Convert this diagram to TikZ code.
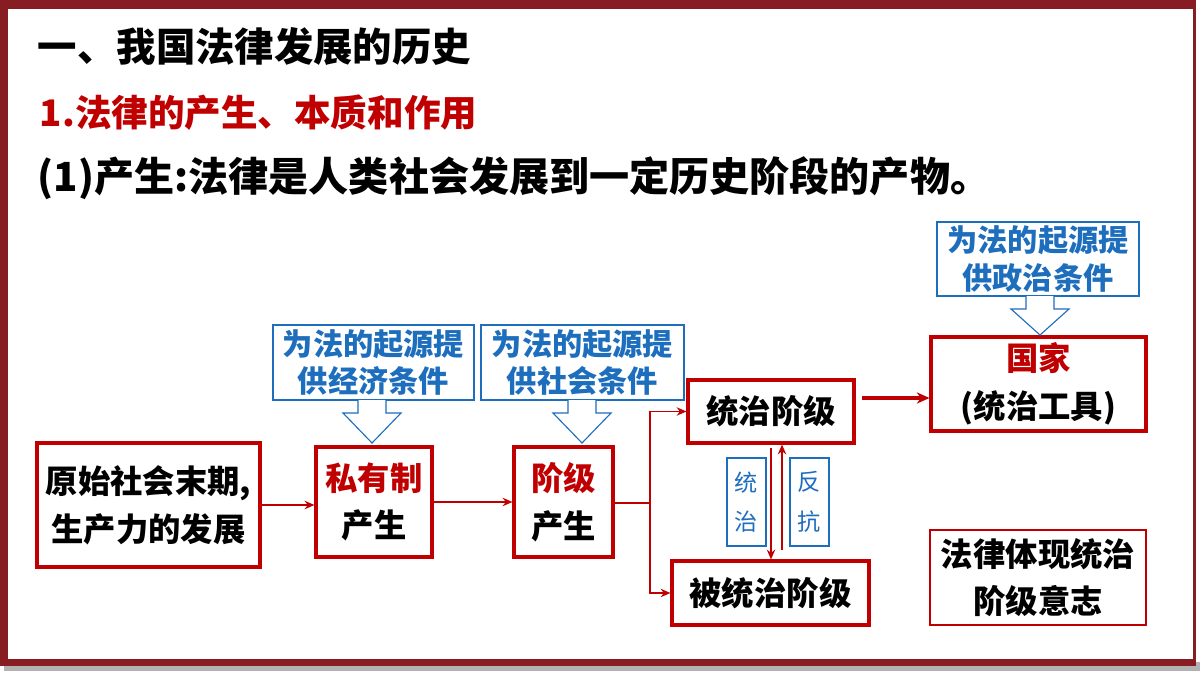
\documentclass[tikz,border=0pt]{standalone}
\usepackage{fontspec}
\setmainfont{Noto Sans CJK SC}
\usetikzlibrary{arrows.meta}
\definecolor{frame}{RGB}{135,28,34}
\definecolor{hred}{RGB}{192,0,0}
\definecolor{hblue}{RGB}{30,110,190}
\tikzset{
  redbox/.style={draw=hred,line width=2.2pt,fill=white,inner sep=0pt,align=center,font=\fontsize{23}{34}\selectfont\bfseries},
  bluebox/.style={draw=hblue,line width=0.8pt,fill=white,inner sep=0pt,align=center,text=hblue,font=\fontsize{21.5}{27}\selectfont\bfseries},
  tagbox/.style={draw=hblue,line width=0.8pt,inner sep=0pt,align=center,text=hblue,font=\fontsize{16.5}{28}\selectfont},
  link/.style={draw=hred,line width=1pt,-{Stealth[length=7pt,width=6pt]}}
}
\newcommand{\callout}[3]{% x of tip, y of box bottom, y of tip
  \draw[hblue,line width=0.8pt,fill=white] (#1-14,#2)--(#1-14,#2+13)--(#1-29,#2+13)--(#1,#3)--(#1+29,#2+13)--(#1+14,#2+13)--(#1+14,#2);
}
\begin{document}
\begin{tikzpicture}[x=0.025cm,y=-0.025cm]
  \useasboundingbox (0,0) rectangle (1200,675);
  % slide frame
  \fill[gray!60] (4,662) rectangle (1200,671);
  \fill[frame] (0,0) rectangle (1196,666);
  \fill[white] (8,9) rectangle (1193,659);
  % headings
  \node[anchor=west,font=\fontsize{28}{32}\selectfont\bfseries] (title) at (33,47) {一、我国法律发展的历史};
  \node[anchor=west,text=hred,font=\fontsize{26}{30}\selectfont\bfseries] (sub) at (35,113) {1.法律的产生、本质和作用};
  \node[anchor=west,font=\fontsize{28.5}{34}\selectfont\bfseries] (item) at (33,178) {(1)产生:法律是人类社会发展到一定历史阶段的产物。};
  % boxes
  \node[redbox,minimum width=223*0.025cm,minimum height=124*0.025cm] (origin) at (148.5,505) {原始社会末期,\\生产力的发展};
  \node[redbox,minimum width=116*0.025cm,minimum height=110*0.025cm] (private) at (374,502) {\textcolor{hred}{私有制}\\产生};
  \node[redbox,minimum width=99*0.025cm,minimum height=110*0.025cm] (class) at (563.5,502) {\textcolor{hred}{阶级}\\产生};
  \node[redbox,minimum width=166*0.025cm,minimum height=63*0.025cm] (ruling) at (771,411.5) {统治阶级};
  \node[redbox,minimum width=197*0.025cm,minimum height=64*0.025cm] (ruled) at (770.5,593) {被统治阶级};
  \node[redbox,minimum width=215*0.025cm,minimum height=94*0.025cm] (state) at (1038.5,384) {\textcolor{hred}{国家}\\(统治工具)};
  \node[redbox,line width=1.6pt,minimum width=216*0.025cm,minimum height=95*0.025cm] (will) at (1038,577.5) {法律体现统治\\阶级意志};
  % callouts
  \node[bluebox,minimum width=201*0.025cm,minimum height=75*0.025cm] (econ) at (373.5,362.5) {为法的起源提\\供经济条件};
  \callout{372}{400}{443}
  \node[bluebox,minimum width=203*0.025cm,minimum height=75*0.025cm] (soc) at (582.5,362.5) {为法的起源提\\供社会条件};
  \callout{582}{400}{443}
  \node[bluebox,minimum width=202*0.025cm,minimum height=74*0.025cm] (pol) at (1038,259) {为法的起源提\\供政治条件};
  \callout{1040}{296}{335}
  % tags
  \node[tagbox,minimum width=39*0.025cm,minimum height=88*0.025cm] (rule) at (746.5,502) {统\\治};
  \node[tagbox,minimum width=39*0.025cm,minimum height=88*0.025cm] (resist) at (809.5,502) {反\\抗};
  % connectors
  \draw[link] (origin.east) -- (origin.east-|private.west);
  \draw[link] (private.east) -- (class.west);
  \coordinate (fork) at (650,503);
  \draw[hred,line width=1pt] (class.east|-fork) -- (fork);
  \draw[link] (fork) |- (ruling.west);
  \draw[link] (fork) |- (ruled.west);
  \coordinate (top) at (862,398);
  \draw[link,line width=2.2pt,-{Stealth[length=9pt,width=8pt]}] (top) -- (top-|state.west);
  \coordinate (down) at (771,448);
  \coordinate (up) at (782,550);
  \draw[link] (down) -- (down|-ruled.north);
  \draw[link] (up) -- (up|-ruling.south);
\end{tikzpicture}
\end{document}
